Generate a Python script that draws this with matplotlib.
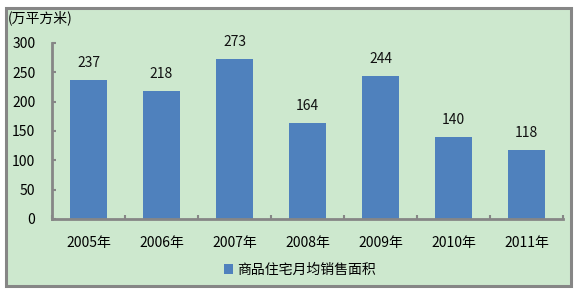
import matplotlib
matplotlib.use("Agg")
import matplotlib.pyplot as plt
from matplotlib.patches import Rectangle

plt.rcParams['font.family'] = ['Noto Sans CJK SC', 'DejaVu Sans']

categories = ["2005年", "2006年", "2007年", "2008年", "2009年", "2010年", "2011年"]
values = [237, 218, 273, 164, 244, 140, 118]
series_name = "商品住宅月均销售面积"
yticks = [0, 50, 100, 150, 200, 250, 300]
unit_label = "(万平方米)"

bg = "#CDE8CE"
bar_color = "#4F81BD"
grey = "#868686"

fig = plt.figure(figsize=(5.76, 2.94), dpi=100)
fig.patch.set_facecolor("white")
# chart area border
fig.patches.append(Rectangle((6/576, 1-286/294), 565/576, 278/294, transform=fig.transFigure,
                             facecolor=bg, edgecolor=grey, linewidth=2.2, zorder=-5))

ax = fig.add_axes([52/576, 1-219/294, 511/576, 176/294])
ax.set_zorder(2)
ax.set_facecolor("none")
x = list(range(len(categories)))
bars = ax.bar(x, values, width=0.5, color=bar_color, zorder=2)
for xi, v in zip(x, values):
    ax.annotate(str(v), (xi, v), xytext=(0, 7), textcoords="offset points",
                ha="center", va="bottom", fontsize=10, color="#111111")

ax.set_xlim(-0.5, len(categories) - 0.5)
ax.set_ylim(0, 300)
ax.set_yticks(yticks)
ax.set_yticklabels([str(t) for t in yticks], fontsize=10)
ax.set_xticks(x)
ax.set_xticklabels(categories, fontsize=10)
ax.set_xticks([i + 0.5 for i in range(-1, len(categories))], minor=True)
ax.tick_params(axis='x', which='major', length=0, pad=12)
ax.tick_params(axis='x', which='minor', direction='in', length=3, color=grey, width=1.5)
ax.tick_params(axis='y', direction='in', length=3, color=grey, width=1.5, pad=12)
for s in ["top", "right"]:
    ax.spines[s].set_visible(False)
for s in ["left", "bottom"]:
    ax.spines[s].set_color(grey)
    ax.spines[s].set_linewidth(2)

fig.text(8/576, 1-18/294, unit_label, fontsize=10, va="center", ha="left")

leg = fig.legend([bars], [series_name], loc="center", bbox_to_anchor=(300/576, 1-270/294),
                 frameon=False, fontsize=10, handlelength=0.7, handleheight=0.7, handletextpad=0.3)

fig.savefig("out.png", dpi=100, facecolor="white")
